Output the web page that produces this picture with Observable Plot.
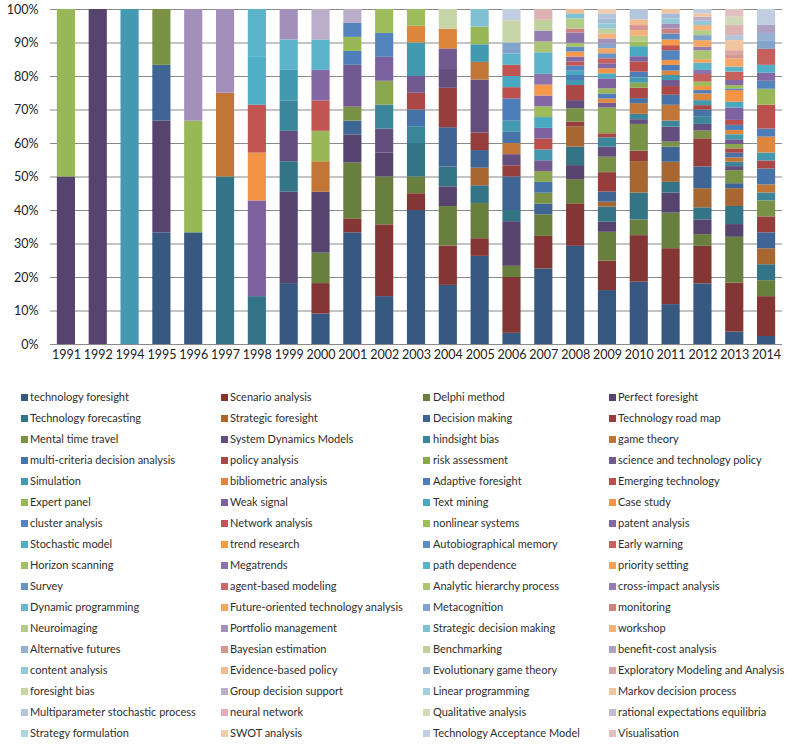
<!DOCTYPE html>
<html>
<head>
<meta charset="utf-8">
<script src="https://cdn.jsdelivr.net/npm/d3@7"></script>
<script src="https://cdn.jsdelivr.net/npm/@observablehq/plot@0.6"></script>
<style>
  html, body { margin: 0; padding: 0; background: #fff; }
  #wrap { position: relative; width: 798px; height: 748px; font-family: Lato, "Open Sans", sans-serif; }
  #chart svg { display: block; }
  #legend { position: absolute; left: 0; top: 370px; width: 798px; height: 378px; }
  .item { position: absolute; height: 14px; line-height: 14px; font-size: 11px; color: #2e2e2e; white-space: nowrap; }
  .sw { position: absolute; left: 0; top: 3.5px; width: 7px; height: 7px; }
  .tx { position: absolute; top: 0; }
</style>
</head>
<body>
<div id="wrap">
  <div id="chart"></div>
  <div id="legend"></div>
</div>
<script>
const keywords = [
  "technology foresight","Scenario analysis","Delphi method","Perfect foresight",
  "Technology forecasting","Strategic foresight","Decision making","Technology road map",
  "Mental time travel","System Dynamics Models","hindsight bias","game theory",
  "multi-criteria decision analysis","policy analysis","risk assessment","science and technology policy",
  "Simulation","bibliometric analysis","Adaptive foresight","Emerging technology",
  "Expert panel","Weak signal","Text mining","Case study",
  "cluster analysis","Network analysis","nonlinear systems","patent analysis",
  "Stochastic model","trend research","Autobiographical memory","Early warning",
  "Horizon scanning","Megatrends","path dependence","priority setting",
  "Survey","agent-based modeling","Analytic hierarchy process","cross-impact analysis",
  "Dynamic programming","Future-oriented technology analysis","Metacognition","monitoring",
  "Neuroimaging","Portfolio management","Strategic decision making","workshop",
  "Alternative futures","Bayesian estimation","Benchmarking","benefit-cost analysis",
  "content analysis","Evidence-based policy","Evolutionary game theory","Exploratory Modeling and Analysis",
  "foresight bias","Group decision support","Linear programming","Markov decision process",
  "Multiparameter stochastic process","neural network","Qualitative analysis","rational expectations equilibria",
  "Strategy formulation","SWOT analysis","Technology Acceptance Model","Visualisation"
];

const years = ["1991","1992","1994","1995","1996","1997","1998","1999","2000","2001","2002","2003",
  "2004","2005","2006","2007","2008","2009","2010","2011","2012","2013","2014"];

const yTicks = [0,0.1,0.2,0.3,0.4,0.5,0.6,0.7,0.8,0.9,1];

// [keyword index, value] from bottom to top
const y1991 = [[3,1],[20,1]];
const y1992 = [[3,1]];
const y1994 = [[16,1]];
const y1995 = [[0,2],[3,2],[6,1],[8,1]];
const y1996 = [[0,1],[20,1],[45,1]];
const y1997 = [[4,2],[11,1],[45,1]];
const y1998 = [[4,1],[21,2],[23,1],[25,1],[28,1],[34,1]];
const y1999 = [[0,2],[3,3],[4,1],[9,1],[10,1],[16,1],[34,1],[45,1]];
const y2000 = [[0,1],[1,1],[2,1],[3,2],[11,1],[20,1],[25,1],[27,1],[34,1],[57,1]];
const y2001 = [[0,8],[1,1],[2,4],[3,2],[6,1],[8,1],[15,3],[18,1],[20,1],[24,1],[57,1]];
const y2002 = [[0,2],[1,3],[2,2],[3,1],[9,1],[10,1],[14,1],[21,1],[24,1],[26,1]];
const y2003 = [[0,8],[1,1],[2,1],[4,2],[10,1],[12,1],[13,1],[15,1],[16,2],[17,1],[26,1]];
const y2004 = [[0,3],[1,2],[2,2],[3,1],[4,1],[6,2],[7,2],[9,1],[15,1],[17,1],[56,1]];
const y2005 = [[0,5],[1,1],[2,2],[4,1],[5,1],[6,1],[7,1],[9,3],[11,1],[16,1],[20,1],[46,1]];
const y2006 = [[0,1],[1,5],[2,1],[3,4],[4,1],[6,3],[7,1],[9,1],[11,1],[12,1],[16,1],[18,2],[19,1],[22,1],[25,1],[34,1],[42,1],[56,2],[66,1]];
const y2007 = [[0,7],[1,3],[2,2],[6,1],[8,1],[12,1],[14,1],[15,1],[16,1],[19,1],[21,1],[22,1],[26,1],[27,1],[29,1],[33,1],[34,2],[38,1],[39,1],[50,1],[61,1]];
const y2008 = [[0,29.3],[1,12.7],[2,7.2],[3,4.2],[4,5.5],[5,6.0],[7,1.5],[8,4.0],[9,2.4],[13,4.5],[16,1.5],[18,1.5],[22,1.3],[24,1.5],[25,1.2],[27,1.5],[29,1.5],[30,1.4],[32,1.2],[33,3.1],[43,1.2],[44,3.0],[46,1.5],[53,1.3]];
const y2009 = [[0,16.1],[1,8.8],[2,8.6],[3,3.0],[4,4.5],[5,1.5],[6,3.0],[7,5.8],[8,4.6],[9,3.0],[10,2.8],[13,1.2],[14,7.7],[15,1.4],[17,1.3],[18,1.5],[20,1.5],[21,3.0],[22,1.5],[23,1.5],[27,1.5],[31,1.5],[36,1.5],[41,1.5],[42,1.4],[45,1.5],[47,1.5],[50,1.5],[52,1.5],[54,1.5],[60,1.5],[65,1.3]];
const y2010 = [[0,18.6],[1,13.9],[2,4.7],[4,8.0],[5,9.4],[7,3.1],[8,8.0],[9,1.4],[10,1.6],[11,3.2],[12,1.5],[13,3.1],[14,1.5],[16,1.6],[18,1.7],[19,3.0],[21,1.6],[22,3.0],[26,1.3],[44,1.8],[47,1.7],[49,1.5],[53,1.7],[60,3.1]];
const y2011 = [[0,11.9],[1,16.7],[2,10.6],[3,6.0],[4,3.2],[5,6.0],[6,4.5],[8,1.5],[9,4.5],[10,1.8],[11,4.7],[12,3.0],[13,2.6],[15,1.8],[16,1.5],[17,1.3],[18,1.7],[23,1.5],[24,2.9],[25,1.5],[29,1.7],[30,1.8],[43,1.5],[45,1.5],[52,1.5],[54,1.5],[59,1.3]];
const y2012 = [[0,18.1],[1,11.2],[2,3.5],[3,4.4],[4,3.6],[5,5.7],[6,6.5],[7,8.4],[8,2.3],[9,2.0],[10,2.3],[12,2.0],[13,1.3],[16,1.5],[17,2.0],[18,1.0],[23,1.2],[26,1.3],[31,2.3],[33,1.2],[34,2.2],[35,1.0],[38,2.7],[39,1.0],[41,2.0],[42,1.5],[44,1.5],[47,1.5],[52,1.3],[57,1.2],[59,1.0],[66,1.3]];
const y2013 = [[0,3.7],[1,14.6],[2,13.7],[3,3.8],[4,5.4],[5,5.3],[6,1.5],[8,3.9],[9,1.2],[10,1.3],[11,1.3],[12,1.4],[13,1.3],[14,1.3],[15,1.4],[16,1.5],[17,1.3],[18,1.5],[19,1.5],[21,3.7],[22,1.7],[23,3.5],[24,0.5],[26,1.0],[27,1.5],[31,2.5],[34,1.5],[41,2.4],[49,1.3],[55,1.2],[59,3.0],[60,1.5],[61,3.0],[62,2.5],[67,2.3]];
const y2014 = [[0,1],[1,5],[2,2],[4,2],[5,2],[6,2],[7,2],[8,2],[10,1],[11,1],[12,2],[13,1],[16,1],[17,2],[18,1],[19,3],[20,2],[24,1],[27,1],[28,1],[31,2],[42,1],[48,1],[51,1],[66,2]];

const segments = [y1991,y1992,y1994,y1995,y1996,y1997,y1998,y1999,y2000,y2001,y2002,y2003,
  y2004,y2005,y2006,y2007,y2008,y2009,y2010,y2011,y2012,y2013,y2014];

// colours: 6 Office accents, shaded from dark to light by cycle
const accents = ["#4F81BD","#C0504D","#9BBB59","#8064A2","#4BACC6","#F79646"];
const levels = [-0.32,-0.22,-0.11,-0.02,0.03,0.10,0.18,0.32,0.44,0.54,0.63,0.72];
function colorFor(i) {
  const c = d3.rgb(accents[i % 6]);
  const f = levels[Math.floor(i / 6)];
  if (f < 0) return d3.rgb(c.r*(1+f), c.g*(1+f), c.b*(1+f)).formatHex();
  const t = 237;
  return d3.rgb(c.r+(t-c.r)*f, c.g+(t-c.g)*f, c.b+(t-c.b)*f).formatHex();
}
const colors = keywords.map((_, i) => colorFor(i));

const rows = years.flatMap((yr, j) =>
  segments[j].map(([k, v]) => ({year: yr, keyword: keywords[k], k, value: v})));

const chart = Plot.plot({
  width: 798,
  height: 370,
  marginLeft: 50,
  marginRight: 16,
  marginTop: 9,
  marginBottom: 26,
  style: {fontFamily: "Lato, 'Open Sans', sans-serif", fontSize: "12px", color: "#222", background: "#fff"},
  x: {domain: years, paddingInner: 0.43, paddingOuter: 0.215, round: false, label: null},
  y: {domain: [0, 1], label: null},
  color: {domain: keywords, range: colors},
  marks: [
    Plot.gridY(yTicks, {stroke: "#8a8a8a", strokeOpacity: 1, strokeWidth: 1.2}),
    Plot.barY(rows, Plot.stackY({offset: "normalize"}, {
      x: "year", y: "value", fill: "keyword", inset: 0
    })),
    Plot.axisY(yTicks, {tickSize: 0, tickPadding: 12, tickFormat: d3.format(".0%"), fontSize: 12.5}),
    Plot.axisX({tickSize: 0, tickPadding: 6, fontSize: 12.5})
  ]
});
document.getElementById("chart").appendChild(chart);

// legend (4 columns, row-major)
const colX = [21, 221, 423, 609];
const legend = document.getElementById("legend");
keywords.forEach((name, i) => {
  const row = Math.floor(i / 4), col = i % 4;
  const d = document.createElement("div");
  d.className = "item";
  d.style.left = colX[col] + "px";
  d.style.top = (397 - 370 - 7 + row * 21) + "px";
  const sw = document.createElement("div");
  sw.className = "sw";
  sw.style.background = colors[i];
  const tx = document.createElement("div");
  tx.className = "tx";
  tx.style.left = (col === 2 ? 10 : 9) + "px";
  tx.textContent = name;
  d.appendChild(sw); d.appendChild(tx);
  legend.appendChild(d);
});
</script>
</body>
</html>
